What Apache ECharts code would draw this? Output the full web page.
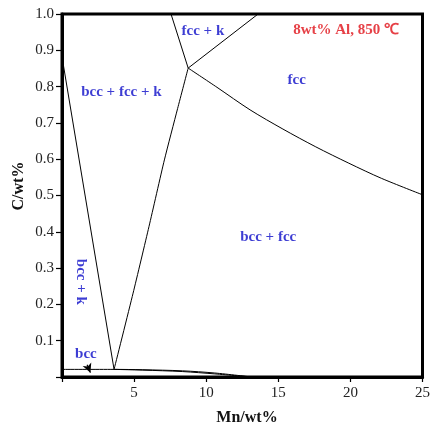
<!DOCTYPE html>
<html>
<head>
<meta charset="utf-8">
<script src="https://cdn.jsdelivr.net/npm/echarts@6/dist/echarts.min.js"></script>
<style>
html,body{margin:0;padding:0;background:#fff;}
#c{width:433px;height:428px;}
</style>
</head>
<body>
<div id="c"></div>
<script>
// Phase boundary lines (Mn wt%, C wt%)
var leftBoundary = [[0, 0.882], [3.61, 0.021]];
var vRightBoundary = [[3.61, 0.021], [4.93, 0.231], [6.03, 0.414], [7.10, 0.598], [8.02, 0.740], [8.75, 0.851]];
var fcckLeftBoundary = [[7.56, 1.0], [8.75, 0.851]];
var fcckRightBoundary = [[8.75, 0.851], [13.6, 1.0]];
var fccBoundary = [[8.75, 0.851], [10.75, 0.798], [13.04, 0.736], [15.32, 0.683], [17.6, 0.634], [19.89, 0.589], [22.17, 0.547], [25.0, 0.502]];
var bccBoundaryUpper = [[0, 0.021], [3.61, 0.021], [5.6, 0.020], [8.35, 0.0170], [10.6, 0.0110], [13.15, 0.0]];
var bccBoundaryLower = [[3.61, 0.021], [5.6, 0.019], [8.35, 0.0150], [10.6, 0.0085], [13.15, 0.0]];
var arrowFrom = [1.74, 0.034];
var arrowTo = [1.97, 0.012];

// Tick values
var xTicks = [0, 5, 10, 15, 20, 25];
var yTicks = [0, 0.1, 0.2, 0.3, 0.4, 0.5, 0.6, 0.7, 0.8, 0.9, 1.0];

// Region labels [text, Mn, C, colorKey, rotate]
var regionLabels = [
  ['bcc + fcc + k', 4.12, 0.785, 'blue', 0],
  ['fcc + k', 9.77, 0.953, 'blue', 0],
  ['8wt% Al, 850 \u2103', 19.7, 0.956, 'red', 0],
  ['fcc', 16.28, 0.818, 'blue', 0],
  ['bcc + fcc', 14.3, 0.384, 'blue', 0],
  ['bcc + k', 1.28, 0.262, 'blue', -90],
  ['bcc', 1.66, 0.063, 'blue', 0]
];

var FONT = '"Liberation Serif","Times New Roman",serif';
var colors = {blue: '#0c0cc8', red: '#e01018'};

function lineSeries(data, smooth) {
  return {
    type: 'line', data: data, showSymbol: false, symbol: 'none', smooth: smooth || false,
    lineStyle: {color: '#000', width: 1}, silent: true, z: 3
  };
}

var series = [
  lineSeries(leftBoundary),
  lineSeries(vRightBoundary, 0.2),
  lineSeries(fcckLeftBoundary),
  lineSeries(fcckRightBoundary),
  lineSeries(fccBoundary, 0.3),
  lineSeries(bccBoundaryUpper, 0.3),
  lineSeries(bccBoundaryLower, 0.3)
];

series.push({
  type: 'line', data: [], silent: true,
  markLine: {
    silent: true, symbol: ['none', 'arrow'], symbolSize: [7, 9],
    label: {show: false},
    lineStyle: {color: '#000', width: 1.2, type: 'solid'},
    data: [[{coord: arrowFrom}, {coord: arrowTo}]]
  }
});

regionLabels.forEach(function (r) {
  series.push({
    type: 'scatter', data: [[r[1], r[2]]], symbolSize: 0, silent: true, z: 5,
    label: {
      show: true, position: 'inside', formatter: r[0], rotate: r[4],
      color: colors[r[3]], fontFamily: FONT, fontWeight: 'bold', fontSize: 15
    }
  });
});

var chart = echarts.init(document.getElementById('c'));
chart.setOption({
  animation: false,
  backgroundColor: '#fff',
  grid: {left: 62, right: 6, top: 14, bottom: 51, show: true, borderColor: '#000', borderWidth: 3, backgroundColor: 'transparent'},
  xAxis: {
    type: 'value', min: xTicks[0], max: xTicks[xTicks.length - 1], interval: 5,
    axisLine: {show: true, lineStyle: {color: '#000', width: 3}},
    axisTick: {show: true, inside: false, length: 5, lineStyle: {color: '#000', width: 1.2}},
    splitLine: {show: false},
    axisLabel: {
      color: '#222', fontFamily: FONT, fontSize: 15, margin: 9,
      formatter: function (v) { return v === 0 ? '' : String(v); }
    }
  },
  yAxis: {
    type: 'value', min: yTicks[0], max: yTicks[yTicks.length - 1], interval: 0.1,
    axisLine: {show: true, lineStyle: {color: '#000', width: 3}},
    axisTick: {show: true, inside: false, length: 6, lineStyle: {color: '#000', width: 1.2}},
    splitLine: {show: false},
    axisLabel: {
      color: '#222', fontFamily: FONT, fontSize: 15, margin: 8,
      formatter: function (v) { return v === 0 ? '' : v.toFixed(1); }
    }
  },
  graphic: [
    {type: 'text', x: 247, y: 418, style: {text: 'Mn/wt%', font: 'bold 16px ' + FONT, fill: '#111', align: 'center', verticalAlign: 'middle'}},
    {type: 'text', x: 19, y: 186, rotation: Math.PI / 2, style: {text: 'C/wt%', font: 'bold 16px ' + FONT, fill: '#111', align: 'center', verticalAlign: 'middle'}}
  ],
  series: series
});
</script>
</body>
</html>
